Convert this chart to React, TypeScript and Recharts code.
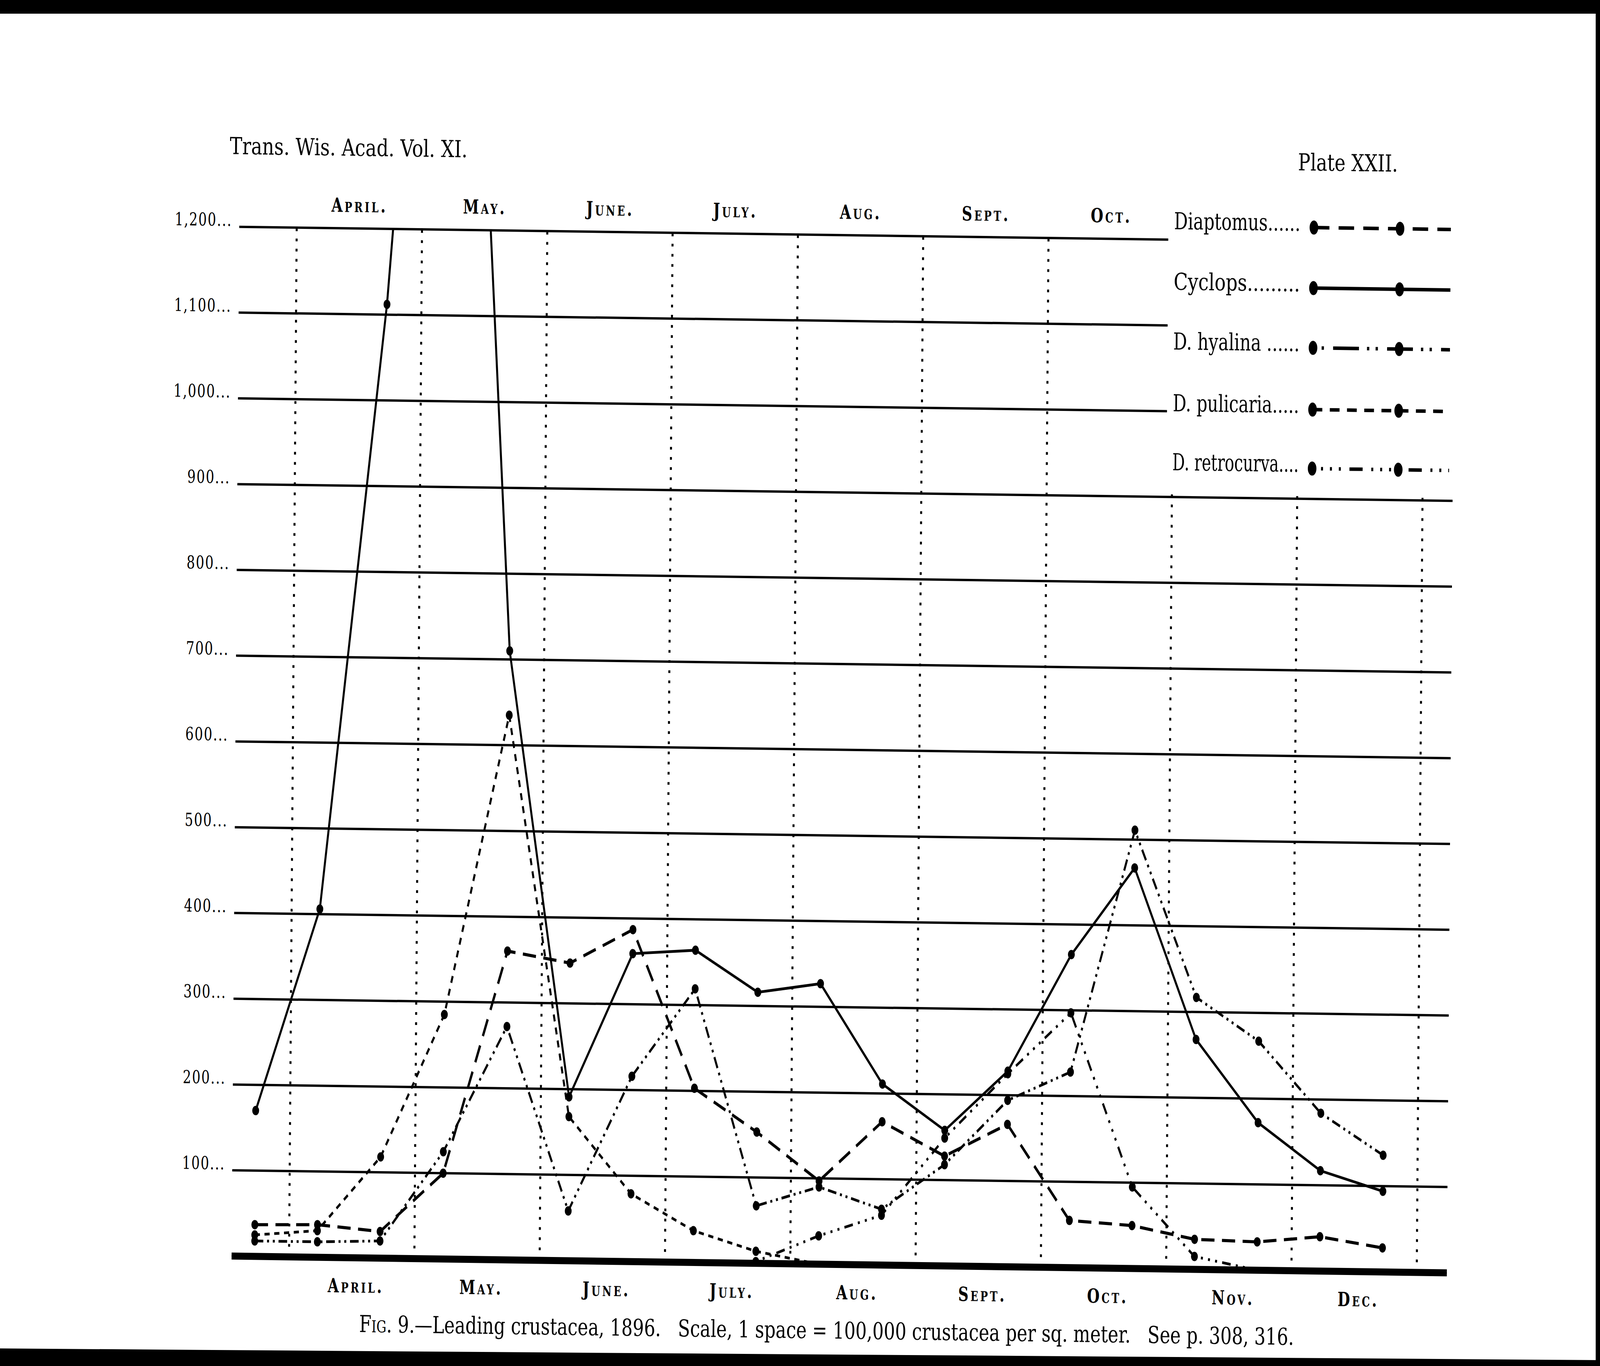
import { CartesianGrid, Line, LineChart, ReferenceLine, XAxis, YAxis } from "recharts"

// semi-monthly samples, 1896 (two per month, April to December)
const samples = [0, 1, 2, 3, 4, 5, 6, 7, 8, 9, 10, 11, 12, 13, 14, 15, 16, 17, 18]
const cyclops = [170, 406, 1112, 2100, 710, 191, 359, 364, 316, 327, 211, 158, 228, 365, 467, 268, 172, 117, 94]
const diaptomus = [37, 38, 31, 100, 360, 347, 387, 203, 153, 97, 167, 128, 166, 55, 50, 35, 33, 40, 28]
const hyalina = [18, 18, 20, 125, 272, 58, 216, 319, 67, 90, 65, 118, 194, 228, 511, 317, 267, 184, 136]
const pulicaria = [25, 31, 118, 285, 635, 168, 79, 37, 14, 0, null, null, null, null, null, null, null, null, null]
const retrocurva = [null, null, null, null, null, null, null, null, 2, 33, 58, 149, 225, 297, 95, 15, 0, null, null]

const monthsTop = ["April.", "May.", "June.", "July.", "Aug.", "Sept.", "Oct."]
const monthsBottom = ["April.", "May.", "June.", "July.", "Aug.", "Sept.", "Oct.", "Nov.", "Dec."]
const yTicks = [100, 200, 300, 400, 500, 600, 700, 800, 900, 1000, 1100, 1200]

const monthMid = monthsBottom.map((_, k) => 1.55 + 2 * k)
const monthEdges = [0.55, 2.55, 4.55, 6.55, 8.55, 10.55, 12.55, 14.55, 16.55, 18.55]

const rows = samples.map((i, k) => ({
  i,
  cyclops: cyclops[k],
  diaptomus: diaptomus[k],
  hyalina: hyalina[k],
  pulicaria: pulicaria[k],
  retrocurva: retrocurva[k],
}))

type Serie = {
  key: string
  name: string
  width: number
  dash?: string
  legendDash?: string
}

const series: Serie[] = [
  { key: "diaptomus", name: "Diaptomus......", width: 8, dash: "46 26", legendDash: "54 32" },
  { key: "cyclops", name: "Cyclops.........", width: 7 },
  { key: "hyalina", name: "D. hyalina ......", width: 7, dash: "30 13 7 13 7 13", legendDash: "8 22 8 32 90 28" },
  { key: "pulicaria", name: "D. pulicaria.....", width: 7, dash: "18 16", legendDash: "34 26" },
  { key: "retrocurva", name: "D. retrocurva....", width: 7, dash: "7 18 7 18 7 18 30 18", legendDash: "7 24 7 24 7 24 7 30 46 30" },
]

const W = 5573
const H = 3497
const FONT = "'DejaVu Serif', 'Liberation Serif', serif"

const makeDot = (key: string) => (p: any) => {
  const v = p.value
  if (v == null || v <= 1 || v > 1200) return <g key={`${key}-${p.index}`} />
  return <circle key={`${key}-${p.index}`} cx={p.cx} cy={p.cy} r={12} fill="#000" />
}

const YTick = ({ y, payload }: any) => (
  <text x={795} y={y - 2} textAnchor="end" fontFamily={FONT} fontSize={46} letterSpacing={3} fill="#000">
    {Number(payload.value).toLocaleString("en-US")}...
  </text>
)

const TopTick = ({ x, payload }: any) => {
  const k = Math.round((payload.value - 1.55) / 2)
  return (
    <text x={x} y={560} textAnchor="middle" fontFamily={FONT} fontSize={50} fontWeight={600} letterSpacing={7}
      style={{ fontVariant: "small-caps" }} fill="#000">
      {monthsTop[k]}
    </text>
  )
}

const BottomTick = ({ x, payload }: any) => {
  const k = Math.round((payload.value - 1.55) / 2)
  return (
    <text x={x + 15} y={3326} textAnchor="middle" fontFamily={FONT} fontSize={50} fontWeight={600} letterSpacing={7}
      style={{ fontVariant: "small-caps" }} fill="#000">
      {monthsBottom[k]}
    </text>
  )
}

const legendRows = [553, 708, 861, 1019, 1170]

export default function App() {
  // the plate is laid out at 5573x3497 and stretched onto the real CSS viewport
  const hasWin = typeof window !== "undefined" && window.innerWidth > 0 && window.innerHeight > 0
  const sx = hasWin ? window.innerWidth / W : 1
  const sy = hasWin ? window.innerHeight / H : 1

  return (
    <div style={{ position: "absolute", left: 0, top: 0, width: W * sx, height: H * sy, overflow: "hidden", background: "#fff" }}>
      <div
        style={{
          position: "absolute",
          left: 0,
          top: 0,
          width: W,
          height: H,
          transform: `scale(${sx}, ${sy})`,
          transformOrigin: "0 0",
          background: "#fff",
        }}
      >
        <div
          style={{
            position: "absolute",
            left: 0,
            top: 0,
            width: W,
            height: H,
            transform: "rotate(0.58deg)",
            transformOrigin: "2930px 1910px",
          }}
        >
          <LineChart width={W} height={H} data={rows} margin={{ top: 452, right: 520, bottom: 110, left: 520 }}>
            <CartesianGrid vertical={false} stroke="#000" strokeWidth={6} />
            <XAxis
              dataKey="i"
              type="number"
              domain={[-0.367, 19.03]}
              ticks={monthMid}
              allowDataOverflow
              axisLine={false}
              tickLine={false}
              height={150}
              tick={<BottomTick />}
            />
            <XAxis
              xAxisId="top"
              orientation="top"
              dataKey="i"
              type="number"
              domain={[-0.367, 19.03]}
              ticks={monthMid.slice(0, 7)}
              allowDataOverflow
              axisLine={false}
              tickLine={false}
              height={150}
              tick={<TopTick />}
            />
            <YAxis
              domain={[0, 1200]}
              ticks={yTicks}
              allowDataOverflow
              axisLine={false}
              tickLine={false}
              width={300}
              tick={<YTick />}
            />
            {monthEdges.map((x) => (
              <ReferenceLine key={x} x={x} stroke="#000" strokeWidth={7} strokeDasharray="7 19" />
            ))}
            <ReferenceLine y={0} stroke="#000" strokeWidth={18} />
            {series.map((sr) => (
              <Line
                key={sr.key}
                type="linear"
                dataKey={sr.key}
                name={sr.name}
                stroke="#000"
                strokeWidth={sr.width}
                strokeDasharray={sr.dash}
                dot={makeDot(sr.key)}
                activeDot={false}
                connectNulls={false}
                isAnimationActive={false}
              />
            ))}
          </LineChart>

          <svg width={W} height={H} style={{ position: "absolute", left: 0, top: 0, pointerEvents: "none" }}>
            <text x={785} y={416} fontFamily={FONT} fontSize={60} textLength={828} lengthAdjust="spacingAndGlyphs">
              Trans. Wis. Acad. Vol. XI.
            </text>
            <text x={4506} y={420} fontFamily={FONT} fontSize={60} textLength={348} lengthAdjust="spacingAndGlyphs">
              Plate XXII.
            </text>
            <text
              x={1266}
              y={3427}
              fontFamily={FONT}
              fontSize={60}
              textLength={3256}
              lengthAdjust="spacingAndGlyphs"
              style={{ whiteSpace: "pre" }}
            >
              <tspan style={{ fontVariant: "small-caps" }}>Fig.</tspan>
              {" 9.—Leading crustacea, 1896.   Scale, 1 space = 100,000 crustacea per sq. meter.   See p. 308, 316."}
            </text>

            <rect x={4056} y={515} width={1100} height={722} fill="#fff" />
            {series.map((sr, k) => {
              const cy = legendRows[k]
              const ly = cy + 13
              return (
                <g key={sr.key}>
                  <text x={4076} y={cy + 22} fontFamily={FONT} fontSize={60} textLength={440} lengthAdjust="spacingAndGlyphs">
                    {sr.name}
                  </text>
                  <line x1={4563} y1={ly} x2={5040} y2={ly} stroke="#000" strokeWidth={9} strokeDasharray={sr.legendDash} />
                  <ellipse cx={4563} cy={ly} rx={15} ry={18} fill="#000" />
                  <ellipse cx={4863} cy={ly} rx={15} ry={18} fill="#000" />
                </g>
              )
            })}
          </svg>
        </div>

        <svg width={W} height={H} style={{ position: "absolute", left: 0, top: 0, pointerEvents: "none" }}>
          <rect x={0} y={0} width={W} height={35} fill="#000" />
          <rect x={5558} y={0} width={15} height={H} fill="#000" />
          <polygon points={`0,3452 ${W},3482 ${W},${H} 0,${H}`} fill="#000" />
        </svg>
      </div>
    </div>
  )
}
